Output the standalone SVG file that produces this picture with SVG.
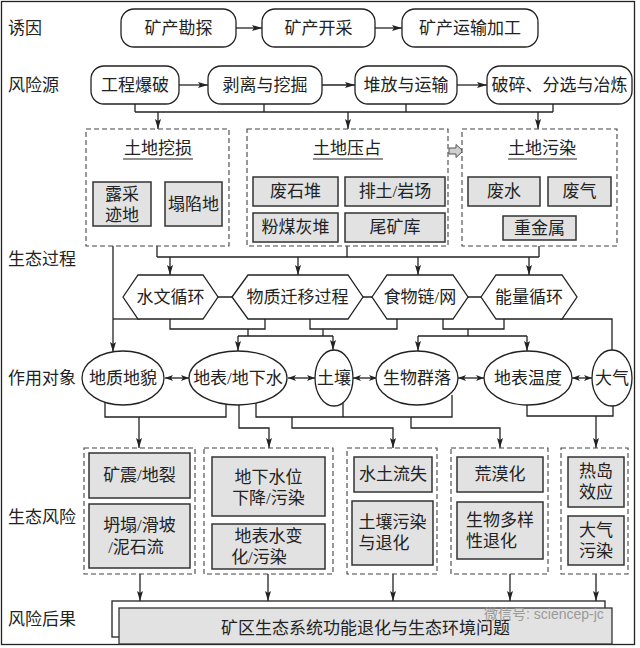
<svg xmlns="http://www.w3.org/2000/svg" width="640" height="648" viewBox="0 0 640 648">
<defs>
<style>
text{font-family:"Liberation Serif","Noto Sans CJK SC",serif;font-size:17px;fill:#222;text-anchor:middle;dominant-baseline:central}
.lab{text-anchor:start}
.box{fill:#fff;stroke:#222;stroke-width:1.3}
.gbox{fill:#e2e2e2;stroke:#333;stroke-width:1.5}
.dash{fill:#fff;stroke:#444;stroke-width:1.1;stroke-dasharray:5 3}
.ln{fill:none;stroke:#222;stroke-width:1.3}
.arr{marker-end:url(#ah)}
.dbl{marker-start:url(#ah2);marker-end:url(#ah2)}
.ul{stroke:#222;stroke-width:1.2}
.wm{fill:#9a9a9a;font-size:14px;font-family:"Liberation Sans","Noto Sans CJK SC",sans-serif;text-anchor:start}
</style>
<marker id="ah" viewBox="0 0 10 6" refX="10" refY="3" markerWidth="10" markerHeight="6" markerUnits="userSpaceOnUse" orient="auto"><path d="M0,0 L10,3 L0,6 L2,3 z" fill="#222"/></marker>
<marker id="ah2" viewBox="0 0 8 6" refX="8" refY="3" markerWidth="8" markerHeight="6" markerUnits="userSpaceOnUse" orient="auto-start-reverse"><path d="M0,0 L8,3 L0,6 L2,3 z" fill="#222"/></marker>
</defs>
<rect x="1.5" y="1.5" width="633" height="643" fill="#fff" stroke="#222" stroke-width="1.3"/>

<g id="labels">
<text class="lab" x="8" y="28">诱因</text>
<text class="lab" x="8" y="85">风险源</text>
<text class="lab" x="8" y="259">生态过程</text>
<text class="lab" x="8" y="378">作用对象</text>
<text class="lab" x="8" y="517">生态风险</text>
<text class="lab" x="8" y="619">风险后果</text>
</g>

<g id="connectors">
<path class="ln arr" d="M236,28 H262"/>
<path class="ln arr" d="M375,28 H402"/>
<path class="ln arr" d="M179,85 H208"/>
<path class="ln arr" d="M322,85 H355"/>
<path class="ln arr" d="M457,85 H487"/>
<path class="ln" d="M135,104 V112 M264,104 V112 M406,104 V112 M553,104 V112 M135,112 H553"/>
<path class="ln arr" d="M158,112 V129"/>
<path class="ln arr" d="M348,112 V129"/>
<path class="ln arr" d="M538,112 V129"/>
<path class="ln" d="M157,246 V257 M347,246 V257 M539,246 V257 M157,257 H539"/>
<path class="ln arr" d="M170,257 V275"/>
<path class="ln arr" d="M298,257 V275"/>
<path class="ln arr" d="M418,257 V275"/>
<path class="ln arr" d="M529,257 V275"/>
<path class="ln arr" d="M113,246 V352"/>
<path class="ln" d="M113,319 H140"/>
<path class="ln" d="M218,297 H232 M363,297 H372 M468,297 H481"/>
<path class="ln" d="M170,319 V329 H265 V319 M248,329 V336"/>
<path class="ln" d="M310,319 V329 H397 V319 M323,329 V336"/>
<path class="ln" d="M238,336 H333"/>
<path class="ln arr" d="M238,336 V351"/>
<path class="ln arr" d="M333,336 V350"/>
<path class="ln" d="M443,319 V329 H504 V319 M468,329 V336 M418,336 H527"/>
<path class="ln arr" d="M418,336 V351"/>
<path class="ln arr" d="M527,336 V351"/>
<path class="ln" d="M560,319 H612 V352"/>
<path class="ln dbl" d="M165,378 H189"/>
<path class="ln dbl" d="M288,378 H315"/>
<path class="ln dbl" d="M353,378 H377"/>
<path class="ln dbl" d="M458,378 H484"/>
<path class="ln dbl" d="M572,378 H592"/>
<path class="ln" d="M105,395 V417 H226 V395"/>
<path class="ln arr" d="M139,417 V448"/>
<path class="ln arr" d="M239,400 V428 H269 V448"/>
<path class="ln" d="M256,400 V417 H452 V395 M343,400 V417"/>
<path class="ln arr" d="M292,417 V428 H393 V448"/>
<path class="ln arr" d="M411,417 V428 H500 V448"/>
<path class="ln" d="M527,395 V416 H613 V395"/>
<path class="ln arr" d="M596,416 V448"/>
<path class="ln arr" d="M140,574 V601"/>
<path class="ln arr" d="M268,574 V601"/>
<path class="ln arr" d="M393,574 V601"/>
<path class="ln arr" d="M510,574 V601"/>
<path class="ln arr" d="M596,574 V601"/>
</g>

<g id="n_kckt"><rect class="box" x="121" y="9" width="115" height="38" rx="13"/><text x="178.5" y="28">矿产勘探</text></g>
<g id="n_kckc"><rect class="box" x="262" y="9" width="113" height="38" rx="13"/><text x="318.5" y="28">矿产开采</text></g>
<g id="n_kcys"><rect class="box" x="402" y="9" width="136" height="38" rx="13"/><text x="470" y="28">矿产运输加工</text></g>

<g id="n_gcbp"><rect class="box" x="91" y="66" width="88" height="38" rx="13"/><text x="135" y="85">工程爆破</text></g>
<g id="n_blwj"><rect class="box" x="208" y="66" width="114" height="38" rx="13"/><text x="265" y="85">剥离与挖掘</text></g>
<g id="n_dfys"><rect class="box" x="355" y="66" width="102" height="38" rx="13"/><text x="406" y="85">堆放与运输</text></g>
<g id="n_psfx"><rect class="box" x="487" y="66" width="145" height="38" rx="13"/><text x="559.5" y="85">破碎、分选与冶炼</text></g>

<g id="n_tdws">
<rect class="dash" x="86" y="129" width="143" height="117"/>
<text x="158" y="148">土地挖损</text><line class="ul" x1="123" y1="159" x2="193" y2="159"/>
<rect class="gbox" x="93" y="182" width="58" height="44"/><text x="122" y="194">露采</text><text x="122" y="215">迹地</text>
<rect class="gbox" x="165" y="182" width="57" height="44"/><text x="193.5" y="204">塌陷地</text>
</g>
<g id="n_tdyz">
<rect class="dash" x="247" y="129" width="201" height="117"/>
<text x="347" y="148">土地压占</text><line class="ul" x1="313" y1="159" x2="383" y2="159"/>
<rect class="gbox" x="253" y="177" width="85" height="29"/><text x="295.5" y="191.5">废石堆</text>
<rect class="gbox" x="345" y="177" width="100" height="29"/><text x="395" y="191.5">排土/岩场</text>
<rect class="gbox" x="253" y="213" width="85" height="29"/><text x="295.5" y="227.5">粉煤灰堆</text>
<rect class="gbox" x="345" y="213" width="100" height="29"/><text x="395" y="227.5">尾矿库</text>
</g>
<g id="n_arrow_block"><path d="M449,148 H456 V144.5 L463,151 L456,157.5 V154 H449 z" fill="#cfcfcf" stroke="#555" stroke-width="1"/></g>
<g id="n_tdwr">
<rect class="dash" x="462" y="129" width="155" height="117"/>
<text x="542" y="148">土地污染</text><line class="ul" x1="508" y1="159" x2="577" y2="159"/>
<rect class="gbox" x="468" y="177" width="72" height="29"/><text x="504" y="191.5">废水</text>
<rect class="gbox" x="548" y="177" width="63" height="29"/><text x="579.5" y="191.5">废气</text>
<rect class="gbox" x="503" y="216" width="73" height="24"/><text x="539.5" y="228">重金属</text>
</g>

<g id="n_swxh"><polygon class="box" points="123,297 138,275 203,275 218,297 203,319 138,319"/><text x="170.5" y="297">水文循环</text></g>
<g id="n_wzqy"><polygon class="box" points="232,297 248,275 348,275 363,297 348,319 248,319"/><text x="297.5" y="297">物质迁移过程</text></g>
<g id="n_swl"><polygon class="box" points="372,297 387,275 453,275 468,297 453,319 387,319"/><text x="420" y="297">食物链/网</text></g>
<g id="n_nlxh"><polygon class="box" points="481,297 496,275 562,275 577,297 562,319 496,319"/><text x="529" y="297">能量循环</text></g>

<g id="n_dzdm"><ellipse class="box" cx="123" cy="378" rx="41" ry="27"/><text x="123" y="378">地质地貌</text></g>
<g id="n_dbs"><ellipse class="box" cx="238" cy="378" rx="49" ry="27"/><text x="238" y="378">地表/地下水</text></g>
<g id="n_tr"><ellipse class="box" cx="334" cy="378" rx="19" ry="28"/><text x="334" y="378">土壤</text></g>
<g id="n_swql"><ellipse class="box" cx="417" cy="378" rx="41" ry="27"/><text x="417" y="378">生物群落</text></g>
<g id="n_dbwd"><ellipse class="box" cx="528" cy="378" rx="44" ry="27"/><text x="528" y="378">地表温度</text></g>
<g id="n_dq"><ellipse class="box" cx="612" cy="378" rx="20" ry="28"/><text x="612" y="378">大气</text></g>

<g id="n_risk1">
<rect class="dash" x="84" y="448" width="111" height="126"/>
<rect class="gbox" x="89" y="453" width="101" height="45"/><text x="139.5" y="475.5">矿震/地裂</text>
<rect class="gbox" x="89" y="504" width="101" height="64"/><text x="139.5" y="525">坍塌/滑坡</text><text x="136" y="547">/泥石流</text>
</g>
<g id="n_risk2">
<rect class="dash" x="204" y="448" width="129" height="126"/>
<rect class="gbox" x="212" y="457" width="113" height="59"/><text x="268.5" y="477">地下水位</text><text x="268.5" y="498">下降/污染</text>
<rect class="gbox" x="212" y="524" width="113" height="45"/><text x="268.5" y="536">地表水变</text><text x="259" y="557">化/污染</text>
</g>
<g id="n_risk3">
<rect class="dash" x="347" y="448" width="90" height="126"/>
<rect class="gbox" x="354" y="457" width="78" height="35"/><text x="393" y="474.5">水土流失</text>
<rect class="gbox" x="352" y="501" width="81" height="64"/><text x="392.5" y="522">土壤污染</text><text x="384" y="543">与退化</text>
</g>
<g id="n_risk4">
<rect class="dash" x="451" y="448" width="97" height="126"/>
<rect class="gbox" x="457" y="457" width="86" height="35"/><text x="500" y="474.5">荒漠化</text>
<rect class="gbox" x="457" y="502" width="86" height="57"/><text x="500" y="520">生物多样</text><text x="491.5" y="541">性退化</text>
</g>
<g id="n_risk5">
<rect class="dash" x="561" y="448" width="67" height="126"/>
<rect class="gbox" x="568" y="457" width="56" height="50"/><text x="596" y="471">热岛</text><text x="596" y="492">效应</text>
<rect class="gbox" x="568" y="516" width="56" height="49"/><text x="596" y="530">大气</text><text x="596" y="551">污染</text>
</g>

<g id="n_result">
<rect x="112" y="601" width="493" height="36" fill="#fff" stroke="#222" stroke-width="1.3"/>
<rect x="119" y="608" width="493" height="36" fill="#e2e2e2" stroke="#333" stroke-width="1.3"/>
<text x="365.5" y="628">矿区生态系统功能退化与生态环境问题</text>
</g>
<text class="wm" x="484" y="614">微信号: sciencep-jc</text>
</svg>
